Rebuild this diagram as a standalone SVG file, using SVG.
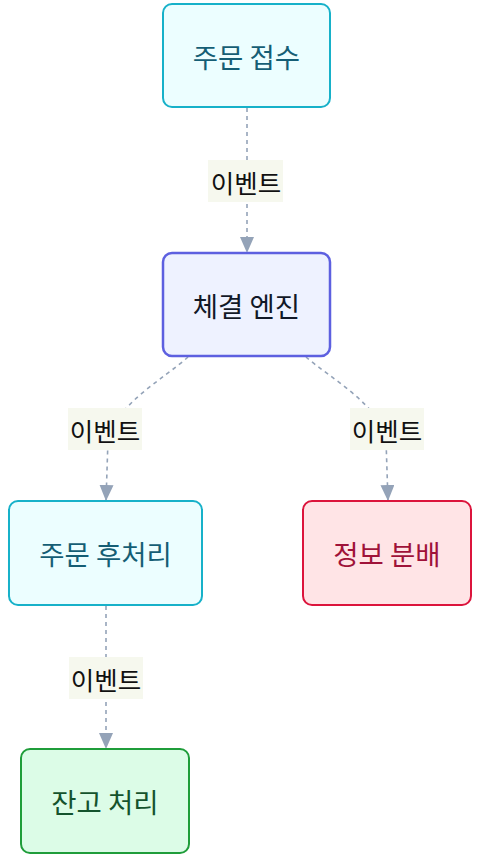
<svg xmlns="http://www.w3.org/2000/svg" width="482" height="863" viewBox="0 0 482 863">
<defs>
<marker id="arr" viewBox="0 0 16 14" refX="16" refY="7" markerWidth="16" markerHeight="14" markerUnits="userSpaceOnUse" orient="auto">
<path d="M0,0 L16,7 L0,14 z" fill="#94a3b8"/>
</marker>
<style>
.edge{fill:none;stroke:#94a3b8;stroke-width:1.6;stroke-dasharray:4 4;}
.lbl{fill:#f6f8ee;}
.lt{font-family:"Noto Sans CJK KR","Noto Sans",sans-serif;font-size:25.5px;fill:#111;text-anchor:middle;dominant-baseline:central;}
.nt{font-family:"Noto Sans CJK KR","Noto Sans",sans-serif;font-size:27.5px;text-anchor:middle;dominant-baseline:central;}
.cyan rect{fill:#ecfeff;stroke:#17b1c9;stroke-width:2;}
.cyan text{fill:#155e75;}
.indigo rect{fill:#eef2ff;stroke:#5d60e0;stroke-width:2.5;}
.indigo text{fill:#111827;}
.red rect{fill:#ffe4e6;stroke:#dc143c;stroke-width:2;}
.red text{fill:#9f1239;}
.green rect{fill:#dcfce7;stroke:#1f9d3a;stroke-width:2;}
.green text{fill:#14532d;}
</style>
</defs>
<g id="connectors">
<path class="edge" d="M247,108 L247,253" marker-end="url(#arr)"/>
<path class="edge" d="M188,357 C165,378 115,405 108,440 L106,501" marker-end="url(#arr)"/>
<path class="edge" d="M306,357 C330,378 380,405 386,440 L388,501" marker-end="url(#arr)"/>
<path class="edge" d="M106,606 L106,749" marker-end="url(#arr)"/>
<rect class="lbl" x="208" y="160" width="75" height="42"/>
<text class="lt" x="246" y="181">이벤트</text>
<rect class="lbl" x="68" y="408" width="74" height="42"/>
<text class="lt" x="105" y="429">이벤트</text>
<rect class="lbl" x="350" y="408" width="74" height="42"/>
<text class="lt" x="387" y="429">이벤트</text>
<rect class="lbl" x="69" y="657" width="74" height="42"/>
<text class="lt" x="106" y="678">이벤트</text>
</g>
<g id="order" class="cyan">
<rect x="163" y="4" width="167" height="103" rx="9"/>
<text class="nt" x="246.5" y="56">주문 접수</text>
</g>
<g id="engine" class="indigo">
<rect x="163" y="253" width="167" height="103" rx="9"/>
<text class="nt" x="246.5" y="305">체결 엔진</text>
</g>
<g id="post" class="cyan">
<rect x="9" y="501" width="193" height="104" rx="9"/>
<text class="nt" x="105.5" y="553">주문 후처리</text>
</g>
<g id="info" class="red">
<rect x="303" y="501" width="168" height="104" rx="9"/>
<text class="nt" x="387" y="553">정보 분배</text>
</g>
<g id="stock" class="green">
<rect x="21" y="749" width="168" height="104" rx="9"/>
<text class="nt" x="105" y="801">잔고 처리</text>
</g>
</svg>
